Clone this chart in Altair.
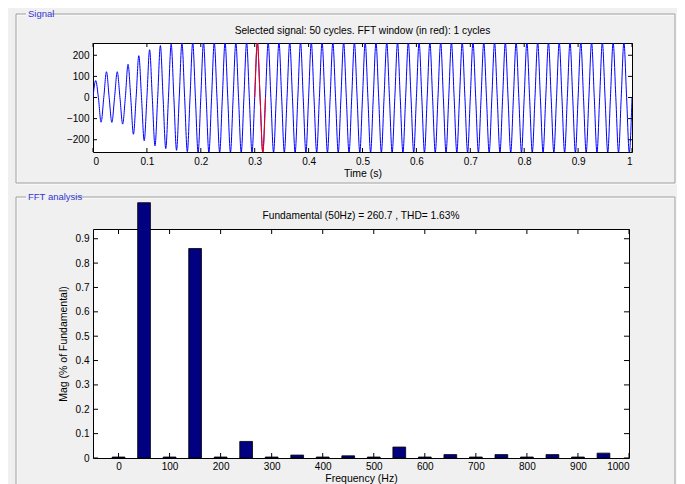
import altair as alt
import pandas as pd

FONT = "Liberation Sans Narrow, Liberation Sans, Arial, sans-serif"

# ---- Signal panel data (per-cycle extremes) ----
cycle_peaks = [80, 122, 122, 157, 198, 226, 246, 253, 259, 261,
               261, 261, 261, 261, 261, 261, 261, 261, 261, 261,
               261, 261, 261, 261, 261, 261, 261, 261, 261, 261,
               261, 261, 261, 261, 261, 261, 261, 261, 261, 261,
               261, 261, 261, 261, 261, 261, 261, 261, 261, 261]
cycle_troughs = [-117, -118, -126, -174, -205, -229, -242, -250, -257, -261,
                 -261, -261, -261, -261, -261, -261, -261, -261, -261, -261,
                 -261, -261, -261, -261, -261, -261, -261, -261, -261, -261,
                 -261, -261, -261, -261, -261, -261, -261, -261, -261, -261,
                 -261, -261, -261, -261, -261, -261, -261, -261, -261, -261]
cycle_period = 0.02
fft_window = [0.30, 0.32]
time_ticks = [0, 0.1, 0.2, 0.3, 0.4, 0.5, 0.6, 0.7, 0.8, 0.9, 1.0]
volt_ticks = [-200, -100, 0, 100, 200]
signal_title = "Selected signal: 50 cycles. FFT window (in red): 1 cycles"

# ---- FFT panel data ----
freqs = [0, 50, 100, 150, 200, 250, 300, 350, 400, 450,
         500, 550, 600, 650, 700, 750, 800, 850, 900, 950]
mags = [0.004, 1.048, 0.004, 0.86, 0.004, 0.068, 0.004, 0.012, 0.004, 0.009,
        0.004, 0.045, 0.004, 0.014, 0.004, 0.014, 0.004, 0.014, 0.004, 0.02]
freq_ticks = [0, 100, 200, 300, 400, 500, 600, 700, 800, 900, 1000]
mag_ticks = [0, 0.1, 0.2, 0.3, 0.4, 0.5, 0.6, 0.7, 0.8, 0.9]
fft_title = "Fundamental (50Hz) = 260.7 , THD= 1.63%"

rows = []
for k, (p, tr) in enumerate(zip(cycle_peaks, cycle_troughs)):
    t0 = k * cycle_period
    rows.append({"t": round(t0, 4), "v": 0})
    rows.append({"t": round(t0 + cycle_period / 4, 4), "v": p})
    rows.append({"t": round(t0 + cycle_period / 2, 4), "v": 0})
    rows.append({"t": round(t0 + 3 * cycle_period / 4, 4), "v": tr})
rows.append({"t": 1.0, "v": 0})
sig = pd.DataFrame(rows)

fft = pd.DataFrame({"f": freqs, "m": mags})

W1, H1 = 539, 109
W2, H2 = 536, 229
one = pd.DataFrame({"a": [0]})


def ticks(xvals, yvals, xs, ys, xax, yax, W, H, L):
    xt = pd.DataFrame({"tx": xvals})
    yt = pd.DataFrame({"ty": yvals})
    out = []
    for y0, y1 in ((H, H - L), (0, L)):
        out.append(alt.Chart(xt).mark_rule(color="black", strokeWidth=1).encode(
            x=alt.X("tx:Q", scale=xs, axis=xax), y=alt.value(y0), y2=alt.value(y1)))
    for x0, x1 in ((0, L), (W, W - L)):
        out.append(alt.Chart(yt).mark_rule(color="black", strokeWidth=1).encode(
            y=alt.Y("ty:Q", scale=ys, axis=yax), x=alt.value(x0), x2=alt.value(x1)))
    return out


def groupbox(x0, x1, y0, y1, label, label_w):
    white = alt.Chart(one).mark_rect(fill=None, stroke="white", strokeWidth=1).encode(
        x=alt.value(x0 + 1), x2=alt.value(x1 + 1), y=alt.value(y0 + 1), y2=alt.value(y1 + 1))
    gray = alt.Chart(one).mark_rect(fill=None, stroke="#a0a0a0", strokeWidth=1).encode(
        x=alt.value(x0), x2=alt.value(x1), y=alt.value(y0), y2=alt.value(y1))
    bg = alt.Chart(one).mark_rect(fill="#f0f0f0").encode(
        x=alt.value(x0 + 10), x2=alt.value(x0 + 14 + label_w), y=alt.value(y0 - 3), y2=alt.value(y0 + 3))
    txt = alt.Chart(one).mark_text(
        text=label, align="left", baseline="middle", font=FONT, fontSize=9.5,
        color="#3434d0").encode(x=alt.value(x0 + 12), y=alt.value(y0))
    return [white, gray, bg, txt]


def title_mark(text, W, dy):
    return alt.Chart(one).mark_text(
        text=text, align="center", baseline="middle", font=FONT, fontSize=10.2, color="black"
    ).encode(x=alt.value(W / 2), y=alt.value(dy))


# ---------- top: signal ----------
xs1 = alt.Scale(domain=[0, 1], nice=False, zero=False)
ys1 = alt.Scale(domain=[-258, 258], nice=False, zero=False)
xax1 = alt.Axis(values=time_ticks, format=".1~f", title="Time (s)", labelPadding=4, titlePadding=2, labelAngle=0)
yax1 = alt.Axis(values=volt_ticks, title=None, labelPadding=4)

anchor = alt.Chart(one).mark_rect(fill="#f0f0f0").encode(
    x=alt.value(-84), x2=alt.value(-80), y=alt.value(-34), y2=alt.value(-30))

blue = alt.Chart(sig).mark_line(color="#0000ff", strokeWidth=1, interpolate="monotone", clip=True).encode(
    x=alt.X("t:Q", scale=xs1, axis=xax1),
    y=alt.Y("v:Q", scale=ys1, axis=yax1),
)
red = alt.Chart(sig).transform_filter(
    f"datum.t >= {fft_window[0]} - 1e-6 && datum.t <= {fft_window[1]} + 1e-6"
).mark_line(color="#ff0000", strokeWidth=1, interpolate="monotone", clip=True).encode(
    x=alt.X("t:Q", scale=xs1, axis=xax1), y=alt.Y("v:Q", scale=ys1, axis=yax1))

top = alt.layer(
    anchor, *groupbox(-77, 582, -29, 140, "Signal", 22), title_mark(signal_title, W1, -12),
    blue, red, *ticks(time_ticks, volt_ticks, xs1, ys1, xax1, yax1, W1, H1, 4)
).properties(width=W1, height=H1)

# ---------- bottom: FFT ----------
xs2 = alt.Scale(domain=[-50, 1000], nice=False, zero=False)
ys2 = alt.Scale(domain=[0, 0.94], nice=False)
xax2 = alt.Axis(values=freq_ticks, format="d", title="Frequency (Hz)", labelPadding=3, titlePadding=2, labelAngle=0)
yax2 = alt.Axis(values=mag_ticks, format=".1~f", title="Mag (% of Fundamental)", labelPadding=4, titlePadding=7)

bars = alt.Chart(fft).transform_calculate(
    x0="datum.f - 12.5", x1="datum.f + 12.5"
).mark_rect(fill="#000080", stroke="black", strokeWidth=0.8, clip=False).encode(
    x=alt.X("x0:Q", scale=xs2, axis=xax2),
    x2="x1:Q",
    y=alt.Y("m:Q", scale=ys2, axis=yax2),
    y2=alt.datum(0),
)

bottom = alt.layer(
    *groupbox(-77, 582, -32, 270, "FFT analysis", 45), title_mark(fft_title, W2, -13),
    bars, *ticks(freq_ticks, mag_ticks, xs2, ys2, xax2, yax2, W2, H2, 5)
).properties(width=W2, height=H2)

chart = alt.vconcat(top, bottom, spacing=77, bounds="flush").properties(
    background="#f0f0f0", padding=0
).configure_view(
    stroke="black", strokeWidth=1, fill="white"
).configure_axis(
    labelFont=FONT, titleFont=FONT, labelFontSize=10, titleFontSize=10.5,
    labelColor="black", titleColor="black", titleFontWeight="normal",
    grid=False, ticks=False, domain=False,
)

chart.save("out.html", embed_options={"renderer": "svg", "actions": False})
